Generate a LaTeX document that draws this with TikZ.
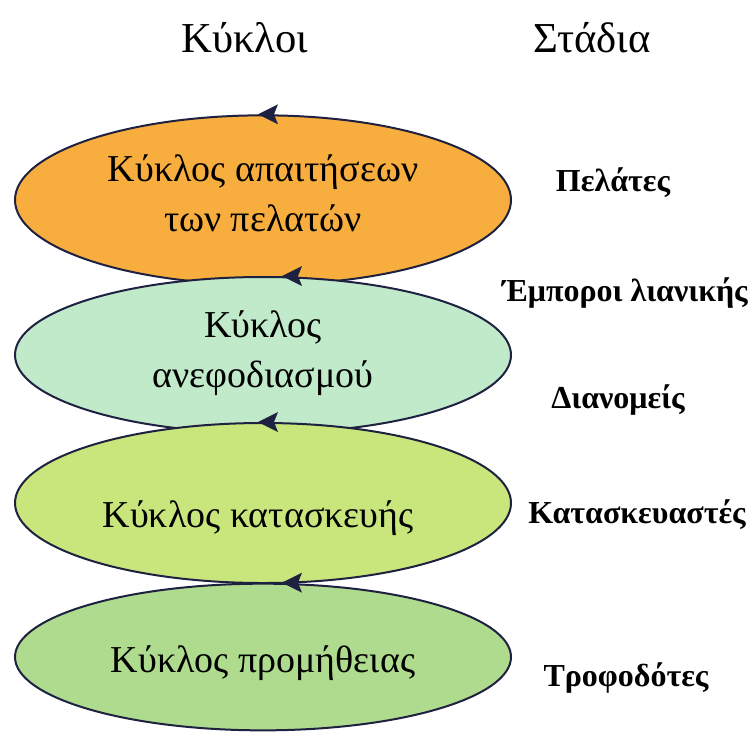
\documentclass[tikz,border=0pt]{standalone}
\usepackage{fontspec}
\setmainfont{Liberation Serif}
\usetikzlibrary{shapes.geometric,calc}

\definecolor{rim}{HTML}{1E2140}
\definecolor{demand}{HTML}{F8AD3F}
\definecolor{replen}{HTML}{C0EACA}
\definecolor{manuf}{HTML}{C9E67C}
\definecolor{procure}{HTML}{AEDB8E}

\tikzset{
  cycle/.style={ellipse, draw=rim, line width=1.5pt, minimum width=372pt,
    inner sep=0pt},
  cyclelabel/.style={align=center, font=\fontsize{28.5}{37.5}\selectfont},
  stage/.style={font=\bfseries\fontsize{24}{28}\selectfont},
  head/.style={font=\fontsize{32}{36}\selectfont},
  turn/.style={fill=rim}
}

% a filled arrowhead pointing left, tip at #1
\newcommand{\leftturn}[1]{%
  \fill[turn] #1 -- ++(20,-10) -- ++(-4,10) -- ++(4,10) -- cycle;}

\begin{document}
\begin{tikzpicture}[x=0.75pt,y=-0.75pt]
  \useasboundingbox (0,0) rectangle (752,740);

  % column headings
  \node[head] (hc) at (245,38) {Κύκλοι};
  \node[head] (hs) at (592,38) {Στάδια};

  % the four cycles, stacked from top to bottom
  \node[cycle, fill=demand, minimum height=127pt] (c1) at (263,200) {};
  \node[cycle, fill=replen, minimum height=117pt] (c2) at (263,355) {};
  \node[cycle, fill=manuf, minimum height=120pt] (c3) at (263,503) {};
  \node[cycle, fill=procure, minimum height=110pt] (c4) at (263,657) {};

  % names of the cycles
  \node[cyclelabel] (t1) at (263,193) {Κύκλος απαιτήσεων\\των πελατών};
  \node[cyclelabel] (t2) at (263,353) {Κύκλος\\ανεφοδιασμού};
  \node[cyclelabel] (t3) at (258,518) {Κύκλος κατασκευής};
  \node[cyclelabel] (t4) at (263,663) {Κύκλος προμήθειας};

  % direction of each cycle
  \leftturn{($(c1.north)+(-5,0)$)}
  \leftturn{($(c2.north)+(19,0)$)}
  \leftturn{($(c3.north)+(-5,0)$)}
  \leftturn{($(c4.north)+(19,0)$)}

  % stages of the chain
  \node[stage] (s1) at (613,183) {Πελάτες};
  \node[stage] (s2) at (625,293) {Έμποροι λιανικής};
  \node[stage] (s3) at (618,400) {Διανομείς};
  \node[stage] (s4) at (637,515) {Κατασκευαστές};
  \node[stage] (s5) at (626,678) {Τροφοδότες};
\end{tikzpicture}
\end{document}
